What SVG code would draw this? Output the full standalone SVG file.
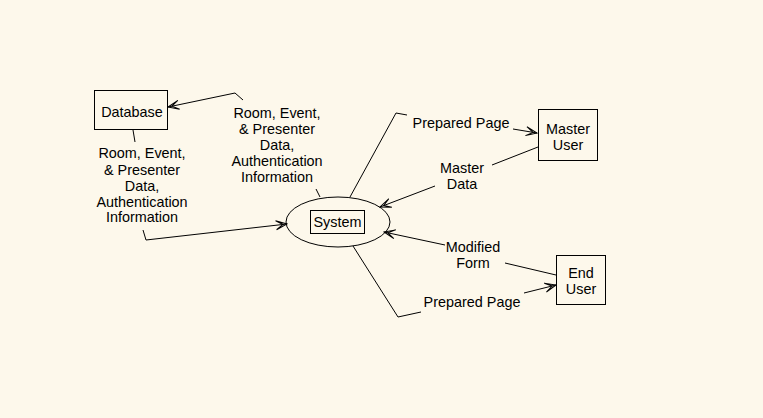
<svg xmlns="http://www.w3.org/2000/svg" width="763" height="418" viewBox="0 0 763 418">
<defs>
<marker id="ah" viewBox="-13 -6 14 12" refX="0" refY="0" markerWidth="14" markerHeight="12" markerUnits="userSpaceOnUse" orient="auto">
<path d="M-11,-4.5 L0,0 L-11,4.5 M-11,-4.5 L-4,0 L-11,4.5" fill="none" stroke="#000" stroke-width="1"/>
</marker>
</defs>
<style>
.box{fill:none;stroke:#000;stroke-width:1}
.ln{fill:none;stroke:#000;stroke-width:1}
.t{font-family:"Liberation Sans",Arial,sans-serif;font-size:14.4px;fill:#000;text-anchor:middle}
</style>
<rect x="0" y="0" width="763" height="418" fill="#fdf8eb"/>
<g id="connectors">
<polyline class="ln" points="243,100 235,93 168,107" marker-end="url(#ah)"/>
<line class="ln" x1="133" y1="130" x2="135" y2="142"/>
<polyline class="ln" points="143,230 146,240 287,224" marker-end="url(#ah)"/>
<line class="ln" x1="316" y1="189" x2="320" y2="197"/>
<polyline class="ln" points="350,197 396,113 407,115"/>
<line class="ln" x1="513" y1="129" x2="537" y2="133" marker-end="url(#ah)"/>
<line class="ln" x1="538" y1="147" x2="492" y2="165"/>
<line class="ln" x1="435" y1="186" x2="380" y2="207" marker-end="url(#ah)"/>
<line class="ln" x1="445" y1="245" x2="384" y2="232" marker-end="url(#ah)"/>
<line class="ln" x1="505" y1="263" x2="556" y2="275"/>
<polyline class="ln" points="353,246 398,317 421,312"/>
<line class="ln" x1="524" y1="293" x2="556" y2="285" marker-end="url(#ah)"/>
</g>
<g id="database">
<rect class="box" x="94.5" y="90.5" width="73" height="39"/>
<text class="t" x="132" y="117">Database</text>
</g>
<g id="system">
<ellipse class="box" cx="338" cy="222" rx="52" ry="25"/>
<rect class="box" x="310.5" y="210.5" width="54" height="23"/>
<text class="t" x="337.5" y="227">System</text>
</g>
<g id="master-user">
<rect class="box" x="538.5" y="109.5" width="59" height="51"/>
<text class="t" x="568" y="134">Master</text>
<text class="t" x="568" y="149.5">User</text>
</g>
<g id="end-user">
<rect class="box" x="556.5" y="255.5" width="49" height="49"/>
<text class="t" x="581" y="278">End</text>
<text class="t" x="581" y="293.5">User</text>
</g>
<g id="labels">
<text class="t" x="142" y="158">Room, Event,</text>
<text class="t" x="142" y="175">&amp; Presenter</text>
<text class="t" x="142" y="191">Data,</text>
<text class="t" x="142" y="207">Authentication</text>
<text class="t" x="142" y="222">Information</text>
<text class="t" x="277" y="118">Room, Event,</text>
<text class="t" x="277" y="134">&amp; Presenter</text>
<text class="t" x="277" y="150">Data,</text>
<text class="t" x="277" y="166">Authentication</text>
<text class="t" x="277" y="182">Information</text>
<text class="t" x="461" y="127.5">Prepared Page</text>
<text class="t" x="462" y="173">Master</text>
<text class="t" x="462" y="189">Data</text>
<text class="t" x="473" y="252">Modified</text>
<text class="t" x="473" y="268">Form</text>
<text class="t" x="472" y="306.5">Prepared Page</text>
</g>
</svg>
